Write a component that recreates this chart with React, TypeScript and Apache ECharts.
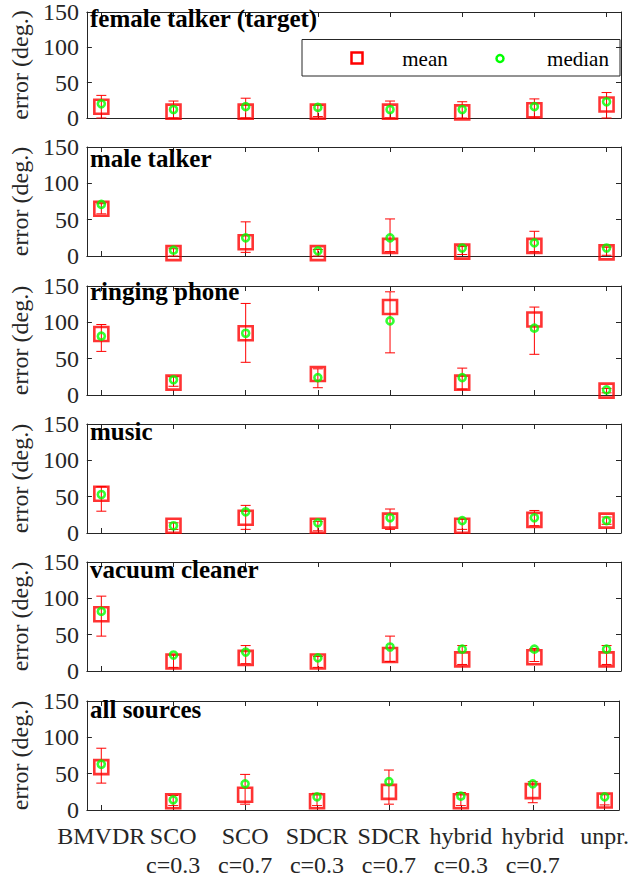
import React, { useEffect, useRef } from "react";
import * as echarts from "echarts";

const categories = ["BMVDR", "SCO\nc=0.3", "SCO\nc=0.7", "SDCR\nc=0.3", "SDCR\nc=0.7", "hybrid\nc=0.3", "hybrid\nc=0.7", "unpr."];
const panelTitles = ["female talker (target)", "male talker", "ringing phone", "music", "vacuum cleaner", "all sources"];
const yTicks = [0, 50, 100, 150];

const femaleMean = [16, 9, 9, 9, 9, 8, 11, 19];
const femaleMedian = [20, 12, 16, 15, 12, 12, 16, 23];
const femaleLow = [0, 0, 0, 2, 0, 0, 0, 0];
const femaleHigh = [32, 24, 28, 18, 24, 23, 27, 36];

const maleMean = [65, 4, 19, 4, 14, 6, 14, 5];
const maleMedian = [71, 8, 25, 7, 25, 11, 18, 11];
const maleLow = [58, 0, 5, 0, 6, 2, 6, 1];
const maleHigh = [72, 10, 47, 9, 51, 13, 34, 12];

const phoneMean = [84, 17, 85, 29, 121, 17, 104, 6];
const phoneMedian = [81, 21, 85, 24, 102, 24, 92, 7];
const phoneLow = [60, 12, 45, 10, 58, 8, 56, 3];
const phoneHigh = [97, 25, 126, 36, 142, 37, 121, 9];

const musicMean = [54, 10, 21, 10, 17, 10, 18, 17];
const musicMedian = [53, 10, 29, 14, 21, 17, 21, 17];
const musicLow = [30, 5, 5, 3, 5, 5, 10, 12];
const musicHigh = [64, 14, 38, 16, 33, 19, 31, 22];

const vacuumMean = [78, 13, 18, 13, 22, 16, 19, 16];
const vacuumMedian = [82, 22, 26, 18, 33, 30, 30, 30];
const vacuumLow = [48, 5, 10, 5, 13, 9, 13, 9];
const vacuumHigh = [103, 22, 35, 20, 48, 35, 31, 35];

const allMean = [59, 12, 21, 12, 25, 12, 26, 13];
const allMedian = [63, 14, 36, 18, 39, 19, 36, 18];
const allLow = [37, 6, 8, 6, 8, 6, 10, 7];
const allHigh = [85, 20, 49, 23, 55, 24, 39, 21];

const panels = [
  { mean: femaleMean, median: femaleMedian, low: femaleLow, high: femaleHigh },
  { mean: maleMean, median: maleMedian, low: maleLow, high: maleHigh },
  { mean: phoneMean, median: phoneMedian, low: phoneLow, high: phoneHigh },
  { mean: musicMean, median: musicMedian, low: musicLow, high: musicHigh },
  { mean: vacuumMean, median: vacuumMedian, low: vacuumLow, high: vacuumHigh },
  { mean: allMean, median: allMedian, low: allLow, high: allHigh },
];

const FONT = "Liberation Serif";
const AXIS = "#262626";
const RED = "#ff0000";
const GREEN = "#00ff00";
const GRID_LEFT = 86;
const GRID_RIGHT = 11;
const GRID_TOPS = [9, 147, 286, 424, 562, 701];
const TITLE_OFFSETS = [-3, -1, -7, -5, -5, -4];
const GRID_H = 109;
const XMIN = 0.8;
const XMAX = 8.2;

function buildOption() {
  const xPos = categories.map((_, i) => i + 1);
  const grid: any[] = [];
  const xAxis: any[] = [];
  const yAxis: any[] = [];
  const series: any[] = [];
  const title: any[] = [];

  panels.forEach((p, i) => {
    const top = GRID_TOPS[i];
    grid.push({ left: GRID_LEFT, right: GRID_RIGHT, top, height: GRID_H, containLabel: false });
    const isLast = i === panels.length - 1;
    xAxis.push({
      type: "value", gridIndex: i, position: "bottom", min: XMIN, max: XMAX,
      axisLine: { show: true, onZero: false, lineStyle: { color: AXIS, width: 1 } },
      axisTick: { show: true, inside: true, length: 5, customValues: xPos, lineStyle: { color: AXIS } },
      axisLabel: {
        show: isLast, customValues: xPos, margin: 11, fontSize: 24, lineHeight: 29,
        fontFamily: FONT, color: AXIS, verticalAlign: "top",
        formatter: (v: number) => categories[Math.round(v) - 1] ?? "",
      },
      splitLine: { show: false },
    });
    xAxis.push({
      type: "value", gridIndex: i, position: "top", min: XMIN, max: XMAX,
      axisLine: { show: true, onZero: false, lineStyle: { color: AXIS, width: 1 } },
      axisTick: { show: true, inside: true, length: 5, customValues: xPos, lineStyle: { color: AXIS } },
      axisLabel: { show: false },
      splitLine: { show: false },
    });
    yAxis.push({
      type: "value", gridIndex: i, position: "left", min: 0, max: 150, interval: 50,
      name: "error (deg.)", nameLocation: "middle", nameGap: 54,
      nameTextStyle: { fontSize: 24, fontFamily: FONT, color: AXIS },
      axisLine: { show: true, onZero: false, lineStyle: { color: AXIS, width: 1 } },
      axisTick: { show: true, inside: true, length: 5, lineStyle: { color: AXIS } },
      axisLabel: { show: true, margin: 8, fontSize: 24, fontFamily: FONT, color: AXIS, customValues: yTicks },
      splitLine: { show: false },
    });
    yAxis.push({
      type: "value", gridIndex: i, position: "right", min: 0, max: 150, interval: 50,
      axisLine: { show: true, onZero: false, lineStyle: { color: AXIS, width: 1 } },
      axisTick: { show: true, inside: true, length: 5, lineStyle: { color: AXIS } },
      axisLabel: { show: false },
      splitLine: { show: false },
    });
    title.push({
      text: panelTitles[i], left: GRID_LEFT + 4, top: top + TITLE_OFFSETS[i], padding: 0,
      textStyle: { fontSize: 25, fontWeight: "bold", fontFamily: FONT, color: "#000" },
    });

    series.push({
      type: "custom", name: "error", xAxisIndex: 2 * i, yAxisIndex: 2 * i,
      data: xPos.map((x, k) => [x, p.low[k], p.high[k]]),
      encode: { x: 0, y: [1, 2] },
      renderItem: (params: any, api: any) => {
        const x = api.value(0);
        const lo = api.coord([x, api.value(1)]);
        const hi = api.coord([x, api.value(2)]);
        const w = 5;
        const style = { stroke: RED, lineWidth: 1, fill: "none" };
        return {
          type: "group",
          children: [
            { type: "line", shape: { x1: lo[0], y1: lo[1], x2: hi[0], y2: hi[1] }, style },
            { type: "line", shape: { x1: hi[0] - w, y1: hi[1], x2: hi[0] + w, y2: hi[1] }, style },
            { type: "line", shape: { x1: lo[0] - w, y1: lo[1], x2: lo[0] + w, y2: lo[1] }, style },
          ],
        };
      },
      z: 2,
    });
    series.push({
      type: "scatter", name: "mean", xAxisIndex: 2 * i, yAxisIndex: 2 * i,
      data: xPos.map((x, k) => [x, p.mean[k]]),
      symbol: "rect", symbolSize: 14,
      itemStyle: { color: "rgba(0,0,0,0)", borderColor: RED, borderWidth: 2.6 },
      z: 3,
    });
    series.push({
      type: "scatter", name: "median", xAxisIndex: 2 * i, yAxisIndex: 2 * i,
      data: xPos.map((x, k) => [x, p.median[k]]),
      symbol: "circle", symbolSize: 7,
      itemStyle: { color: "rgba(0,0,0,0)", borderColor: GREEN, borderWidth: 2.6 },
      z: 4,
    });
  });

  const graphic = [
    {
      type: "group", z: 100,
      children: [
        { type: "rect", shape: { x: 302, y: 39.5, width: 318, height: 36.5 }, style: { fill: "#fff", stroke: AXIS, lineWidth: 1 } },
        { type: "rect", shape: { x: 351.5, y: 52.5, width: 11, height: 11 }, style: { fill: "none", stroke: RED, lineWidth: 2.5 } },
        { type: "text", x: 425, y: 59, style: { text: "mean", fontSize: 21, fontFamily: FONT, fill: "#000", align: "center", verticalAlign: "middle" } },
        { type: "circle", shape: { cx: 500, cy: 58.5, r: 3.5 }, style: { fill: "none", stroke: GREEN, lineWidth: 2.5 } },
        { type: "text", x: 578, y: 59, style: { text: "median", fontSize: 21, fontFamily: FONT, fill: "#000", align: "center", verticalAlign: "middle" } },
      ],
    },
  ];

  return {
    animation: false,
    backgroundColor: "#ffffff",
    title,
    grid,
    xAxis,
    yAxis,
    series,
    graphic,
  };
}

export default function App() {
  const ref = useRef<HTMLDivElement>(null);
  useEffect(() => {
    if (!ref.current) return;
    const chart = echarts.init(ref.current, undefined, { renderer: "svg" });
    chart.setOption(buildOption() as any);
    return () => chart.dispose();
  }, []);
  return (
    <div
      ref={ref}
      style={{ position: "fixed", left: 0, top: 0, width: 632, height: 882, background: "#fff" }}
    />
  );
}
